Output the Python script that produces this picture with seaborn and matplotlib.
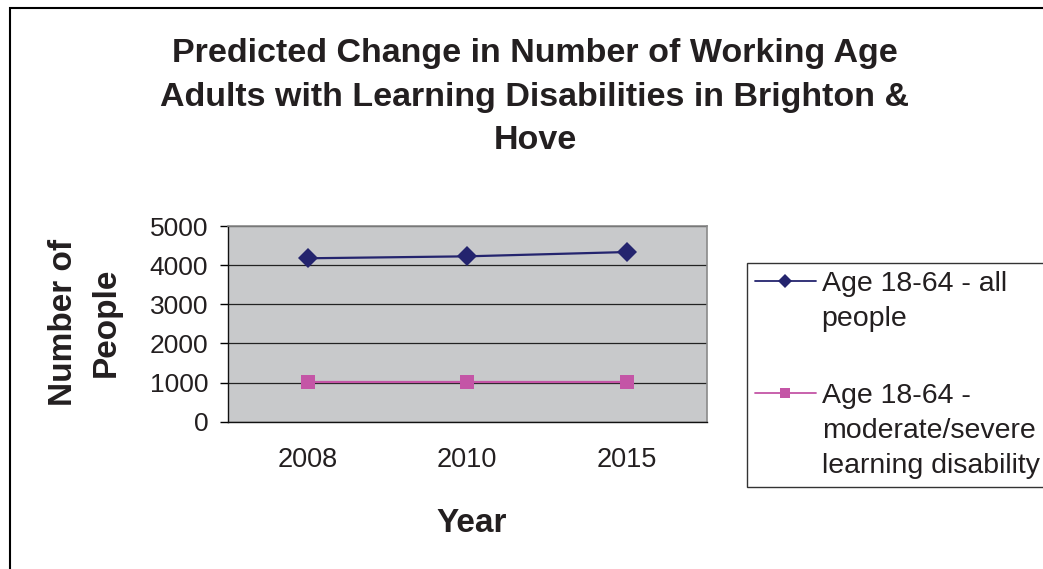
import pandas as pd
import matplotlib.pyplot as plt
from matplotlib.lines import Line2D
from matplotlib.patches import Rectangle
import seaborn as sns

# Data
years = ['2008', '2010', '2015']
all_people = [4175, 4225, 4335]
moderate_severe = [1010, 1010, 1010]
series_names = ['Age 18-64 - all people', 'Age 18-64 - moderate/severe learning disability']

df = pd.DataFrame({
    'Year': years * 2,
    'People': all_people + moderate_severe,
    'Series': [series_names[0]] * 3 + [series_names[1]] * 3,
})

sns.set_style('white')
plt.rcParams['font.family'] = ['Liberation Sans', 'DejaVu Sans']
text_col = '#231f20'
navy = '#24246e'
pink = '#c455a6'

fig = plt.figure(figsize=(10.43, 5.69), dpi=100)
ax = fig.add_axes([227.7 / 1043, 1 - 421.7 / 569, 479 / 1043, 195.7 / 569])
ax.set_facecolor('#c8c9cb')

sns.lineplot(data=df, x='Year', y='People', hue='Series', style='Series',
             palette=[navy, pink], markers=['D', 's'], dashes=False,
             markersize=10, markeredgewidth=0, linewidth=1.6, legend=False, ax=ax)

# axes / grid
ax.set_ylim(0, 5000)
ax.set_yticks(range(0, 5001, 1000))
ax.set_xlim(-0.5, 2.5)
ax.set_xticks([0, 1, 2])
ax.set_xticks([-0.5, 0.5, 1.5, 2.5], minor=True)
ax.tick_params(axis='x', which='major', length=0, pad=18, labelsize=19.5, labelcolor=text_col)
ax.tick_params(axis='x', which='minor', length=6, width=1, color='black', direction='out')
ax.tick_params(axis='y', length=6, width=1, color='black', direction='out', pad=8,
               labelsize=19, labelcolor=text_col, left=True)
ax.grid(True, axis='y', color='#222222', linewidth=0.9)
ax.set_axisbelow(True)
ax.set_xlabel('')
ax.set_ylabel('')
for side in ['top', 'right']:
    ax.spines[side].set_color('#8a8a8a')
    ax.spines[side].set_linewidth(1.2)
for side in ['left', 'bottom']:
    ax.spines[side].set_color('#111111')
    ax.spines[side].set_linewidth(1.0)

# titles and labels
fig.text(535 / 1043, 1 - 149 / 569,
         'Predicted Change in Number of Working Age\nAdults with Learning Disabilities in Brighton &\nHove',
         ha='center', va='baseline', fontsize=24.5, fontweight='bold', color=text_col,
         linespacing=1.52)
fig.text(472 / 1043, 1 - 532 / 569, 'Year', ha='center', va='baseline',
         fontsize=24, fontweight='bold', color=text_col)
fig.text(85 / 1043, 1 - 322 / 569, 'Number of\nPeople', rotation=90, ha='center', va='center',
         fontsize=24, fontweight='bold', color=text_col, linespacing=1.5, multialignment='center')

# legend, one row per text line
h1 = Line2D([], [], color=navy, marker='D', markersize=7, markeredgewidth=0, linewidth=1.3)
h2 = Line2D([], [], color=pink, marker='s', markersize=7, markeredgewidth=0, linewidth=1.3)
blank = Line2D([], [], linestyle='none')
handles = [h1, blank, blank, h2, blank, blank]
labels = ['Age 18-64 - all', 'people', '', 'Age 18-64 -', 'moderate/severe', 'learning disability']
leg = fig.legend(handles, labels, loc='upper left',
                 bbox_to_anchor=(746.7 / 1043, 1 - 262.7 / 569), bbox_transform=fig.transFigure,
                 fontsize=20.5, frameon=True, fancybox=False, borderaxespad=0, borderpad=0.28,
                 handlelength=2.15, handletextpad=0.2, labelspacing=0.32, labelcolor=text_col)
leg.texts[2].set_fontsize(25.5)
leg.get_frame().set_edgecolor('black')
leg.get_frame().set_linewidth(1.0)

# outer chart border
fig.add_artist(Rectangle((10 / 1043, -0.1), 1.2, 1.1 - 8 / 569, transform=fig.transFigure,
                         fill=False, edgecolor='black', linewidth=1.5))

plt.savefig('out.png', dpi=100)
